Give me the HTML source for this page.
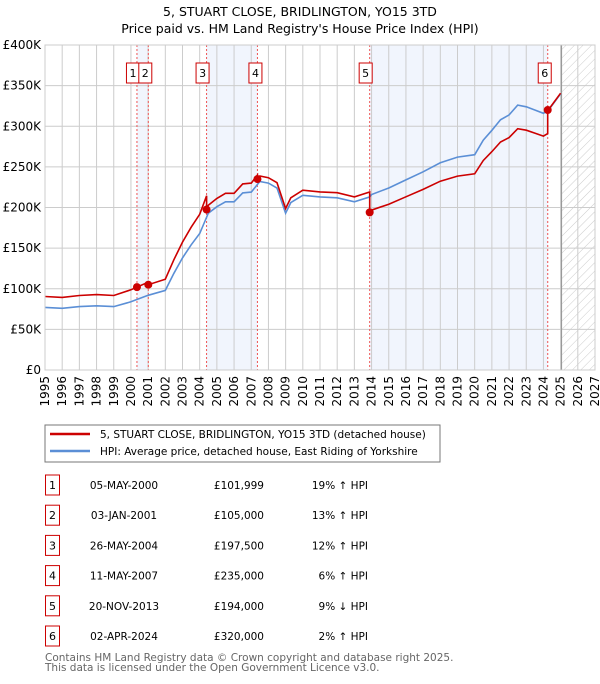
<!DOCTYPE html>
<html><head><meta charset="utf-8"><style>
body{margin:0;background:#fff;font-family:"DejaVu Sans","Liberation Sans",sans-serif;}
svg text{font-family:"DejaVu Sans","Liberation Sans",sans-serif;}
</style></head><body>
<svg id="chart" width="600" height="680" viewBox="0 0 600 680" xmlns="http://www.w3.org/2000/svg">
<defs><pattern id="hatch" width="6" height="6" patternUnits="userSpaceOnUse" patternTransform="rotate(45)"><line x1="0" y1="0" x2="0" y2="6" stroke="#ccc" stroke-width="1"/></pattern></defs>
<text x="300" y="16" text-anchor="middle" font-size="12.5">5, STUART CLOSE, BRIDLINGTON, YO15 3TD</text>
<text x="300" y="33" text-anchor="middle" font-size="12.5">Price paid vs. HM Land Registry's House Price Index (HPI)</text>
<g id="plot"></g>
<g>
<rect x="45" y="425" width="395" height="37" fill="#fff" stroke="#777"/>
<line x1="50" y1="434" x2="90" y2="434" stroke="#cc0000" stroke-width="2.5"/>
<text x="100" y="438" font-size="10.5">5, STUART CLOSE, BRIDLINGTON, YO15 3TD (detached house)</text>
<line x1="50" y1="451" x2="90" y2="451" stroke="#5b8fd6" stroke-width="2.5"/>
<text x="100" y="455" font-size="10.5">HPI: Average price, detached house, East Riding of Yorkshire</text>
</g>
<g id="table"></g>
<text x="45" y="661" font-size="10.5" fill="#666">Contains HM Land Registry data © Crown copyright and database right 2025.</text>
<text x="45" y="671" font-size="10.5" fill="#666">This data is licensed under the Open Government Licence v3.0.</text>
</svg>
<script>
const hpiYears=[1995,1996,1997,1998,1999,2000,2001,2002,2002.5,2003,2003.5,2004,2004.5,2005,2005.5,2006,2006.5,2007,2007.5,2008,2008.5,2009,2009.3,2010,2011,2012,2013,2013.9,2014,2015,2016,2017,2018,2019,2020,2020.5,2021,2021.5,2022,2022.5,2023,2023.5,2024,2024.3,2025];
const hpiValues=[77,76,78,79,78,84,92,98,119,138,154,168,193,201,207,207,218,219,232,230,224,193,206,215,213,212,207,213,216,224,234,244,255,262,265,283,295,308,314,326,324,320,316,320,340];
const saleDates=[2000.35,2001.01,2004.4,2007.36,2013.89,2024.25];
const salePrices=[101999,105000,197500,235000,194000,320000];
const saleLabels=["05-MAY-2000","03-JAN-2001","26-MAY-2004","11-MAY-2007","20-NOV-2013","02-APR-2024"];
const salePriceText=["£101,999","£105,000","£197,500","£235,000","£194,000","£320,000"];
const saleHpiText=["19% ↑ HPI","13% ↑ HPI","12% ↑ HPI","6% ↑ HPI","9% ↓ HPI","2% ↑ HPI"];
const yTicks=[0,50,100,150,200,250,300,350,400];
const yTickLabels=["£0","£50K","£100K","£150K","£200K","£250K","£300K","£350K","£400K"];
const xTicks=[1995,1996,1997,1998,1999,2000,2001,2002,2003,2004,2005,2006,2007,2008,2009,2010,2011,2012,2013,2014,2015,2016,2017,2018,2019,2020,2021,2022,2023,2024,2025,2026,2027];
const NS="http://www.w3.org/2000/svg";
const X0=45,X1=595,Y0=370,Y1=45,xMin=1995,xMax=2027,yMax=400;
const xs=t=>X0+(t-xMin)/(xMax-xMin)*(X1-X0);
const ys=v=>Y0-v/yMax*(Y0-Y1);
function hpiAt(t){for(let i=0;i<hpiYears.length-1;i++){if(t<=hpiYears[i+1]){const f=(t-hpiYears[i])/(hpiYears[i+1]-hpiYears[i]);return hpiValues[i]+f*(hpiValues[i+1]-hpiValues[i]);}}return hpiValues[hpiValues.length-1];}
const plot=document.getElementById('plot');
function mk(tag,attrs,parent){const e=document.createElementNS(NS,tag);for(const k in attrs)e.setAttribute(k,attrs[k]);(parent||plot).appendChild(e);return e;}
const shades=[[0,1],[2,3],[4,5]];
shades.forEach((p,i)=>{const r=mk('rect',{x:xs(saleDates[p[0]]),y:Y1,width:xs(saleDates[p[1]])-xs(saleDates[p[0]]),height:Y0-Y1,fill:'#eef3fc',opacity:0.8});

});
const fut=mk('rect',{x:xs(2025.05),y:Y1,width:X1-xs(2025.05),height:Y0-Y1,fill:'url(#hatch)'});


xTicks.forEach(t=>{const l=mk('line',{x1:xs(t),x2:xs(t),y1:Y1,y2:Y0,stroke:'#ccc','stroke-width':1});


const tx=mk('text',{transform:`translate(${xs(t)+4},${Y0+6}) rotate(-90)`,'text-anchor':'end','font-size':12});
tx.textContent=t;

});
yTicks.forEach((v,i)=>{const l=mk('line',{x1:X0,x2:X1,y1:ys(v),y2:ys(v),stroke:'#ccc','stroke-width':1});


const tx=mk('text',{x:X0-4,y:ys(v)+4,'text-anchor':'end','font-size':12});
tx.textContent=yTickLabels[i];

});
const nowL=mk('line',{x1:xs(2025.05),x2:xs(2025.05),y1:Y1,y2:Y0,stroke:'#999','stroke-width':1.2});


saleDates.forEach((d,i)=>{const l=mk('line',{x1:xs(d),x2:xs(d),y1:Y1,y2:Y0,stroke:'#e55','stroke-width':1,'stroke-dasharray':'2,2'});

});
let hp=hpiYears.map((t,i)=>`${i?'L':'M'}${xs(t).toFixed(1)},${ys(hpiValues[i]).toFixed(1)}`).join('');
const hl=mk('path',{d:hp,fill:'none',stroke:'#5b8fd6','stroke-width':1.6});


const ratios=saleDates.map((d,i)=>salePrices[i]/1000/hpiAt(d));
function ratioAt(t){let r=ratios[0];for(let i=0;i<saleDates.length;i++)if(t>=saleDates[i])r=ratios[i];return r;}
let pts=[];const ts=[...new Set([...hpiYears,...saleDates])].sort((a,b)=>a-b);
ts.forEach(t=>{saleDates.forEach((d,i)=>{if(Math.abs(t-d)<1e-9&&i>0)pts.push([t,hpiAt(t)*ratios[i-1]]);});pts.push([t,hpiAt(t)*ratioAt(t)]);});
const pl=mk('path',{d:pts.map((p,i)=>`${i?'L':'M'}${xs(p[0]).toFixed(1)},${ys(p[1]).toFixed(1)}`).join(''),fill:'none',stroke:'#cc0000','stroke-width':1.6});


const labelShift=[-4,-3,-4,-2,-4,-3];
saleDates.forEach((d,i)=>{const c=mk('circle',{cx:xs(d),cy:ys(salePrices[i]/1000),r:4,fill:'#cc0000'});


const bx=xs(d)+labelShift[i];
const g=mk('g',{});


mk('rect',{x:bx-6.5,y:63,width:13,height:20,fill:'#fff',stroke:'#c00'},g);
const t=mk('text',{x:bx,y:77,'text-anchor':'middle','font-size':11},g);t.textContent=i+1;});
const border=mk('rect',{x:X0,y:Y1,width:X1-X0,height:Y0-Y1,fill:'none',stroke:'#ccc'});


const tb=document.getElementById('table');
saleDates.forEach((d,i)=>{const y=485+i*30.2;const g=mk('g',{},tb);


mk('rect',{x:45.5,y:y-10,width:14,height:20,fill:'#fff',stroke:'#c00'},g);
const n=mk('text',{x:52.5,y:y+4,'text-anchor':'middle','font-size':11},g);n.textContent=i+1;
const a=mk('text',{x:124,y:y+4,'text-anchor':'middle','font-size':10.5},g);a.textContent=saleLabels[i];
const b=mk('text',{x:264,y:y+4,'text-anchor':'end','font-size':10.5},g);b.textContent=salePriceText[i];
const c=mk('text',{x:368,y:y+4,'text-anchor':'end','font-size':10.5},g);c.textContent=saleHpiText[i];});
</script>
</body></html>
